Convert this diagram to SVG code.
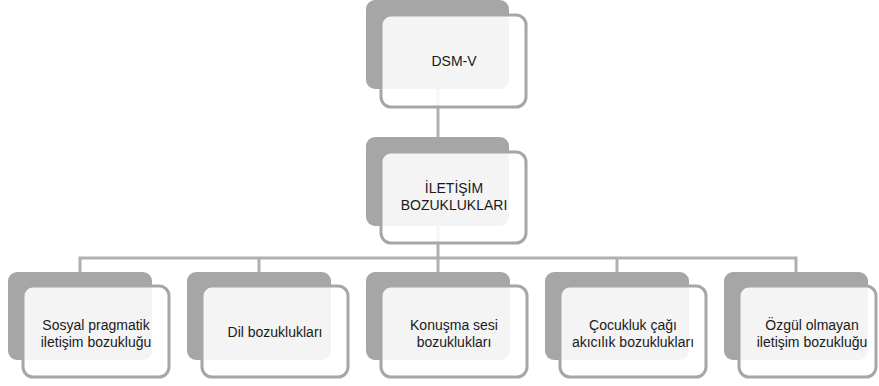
<svg xmlns="http://www.w3.org/2000/svg" width="879" height="386" viewBox="0 0 879 386">
<style>
.back{fill:#a6a6a6}
.front{fill:#ffffff;fill-opacity:0.88;stroke:#a6a6a6;stroke-width:3}
.conn{fill:none;stroke:#b0b0b0;stroke-width:3}
text{font-family:"Liberation Sans",Arial,sans-serif;font-size:14px;fill:#1a1a1a;text-anchor:middle}
</style>
<rect width="879" height="386" fill="#ffffff"/>
<g id="connectors">
<path class="conn" d="M438,89 V137"/>
<path class="conn" d="M438,226 V258 M80,272 V258 H796 V272 M259,258 V272 M438,258 V272 M617,258 V272"/>
</g>
<g id="n-dsm">
<rect class="back" x="366" y="0" width="143" height="89" rx="9"/>
<rect class="front" x="381" y="15" width="145" height="92" rx="10"/>
<text x="454" y="66">DSM-V</text>
</g>
<g id="n-iletisim">
<rect class="back" x="366" y="137" width="143" height="89" rx="9"/>
<rect class="front" x="381" y="152" width="145" height="91" rx="10"/>
<text x="454" y="193">İLETİŞİM</text>
<text x="454" y="210">BOZUKLUKLARI</text>
</g>
<g id="n-sosyal">
<rect class="back" x="8" y="272" width="144" height="88" rx="9"/>
<rect class="front" x="23" y="286" width="146" height="91" rx="10"/>
<text x="96" y="330">Sosyal pragmatik</text>
<text x="96" y="347">iletişim bozukluğu</text>
</g>
<g id="n-dil">
<rect class="back" x="187" y="272" width="144" height="88" rx="9"/>
<rect class="front" x="202" y="286" width="146" height="91" rx="10"/>
<text x="275" y="337">Dil bozuklukları</text>
</g>
<g id="n-konusma">
<rect class="back" x="366" y="272" width="144" height="88" rx="9"/>
<rect class="front" x="381" y="286" width="146" height="91" rx="10"/>
<text x="454" y="330">Konuşma sesi</text>
<text x="454" y="347">bozuklukları</text>
</g>
<g id="n-cocukluk">
<rect class="back" x="545" y="272" width="144" height="88" rx="9"/>
<rect class="front" x="560" y="286" width="146" height="91" rx="10"/>
<text x="633" y="330">Çocukluk çağı</text>
<text x="633" y="347">akıcılık bozuklukları</text>
</g>
<g id="n-ozgul">
<rect class="back" x="724" y="272" width="144" height="88" rx="9"/>
<rect class="front" x="739" y="286" width="137" height="91" rx="10"/>
<text x="812" y="330">Özgül olmayan</text>
<text x="812" y="347">iletişim bozukluğu</text>
</g>
</svg>
